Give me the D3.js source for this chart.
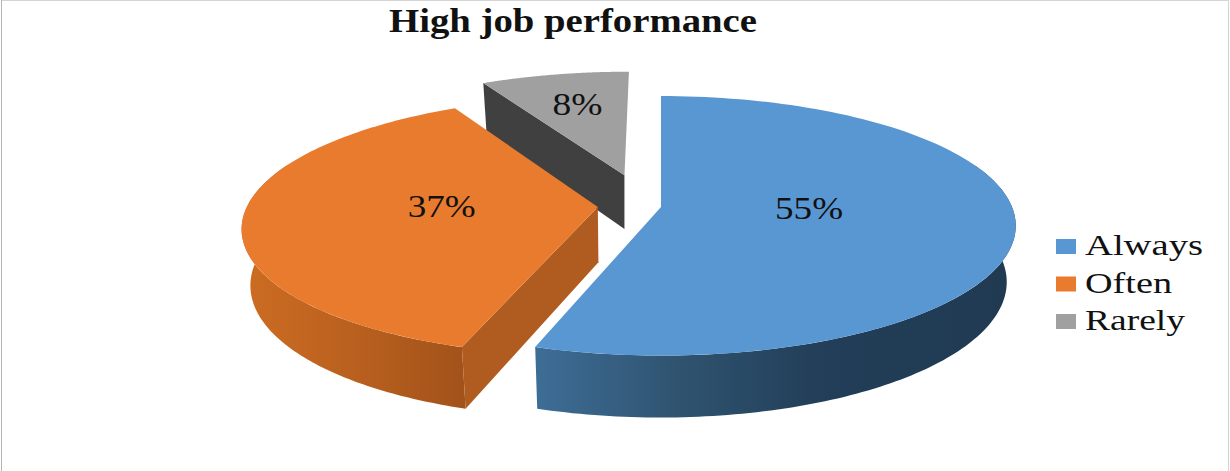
<!DOCTYPE html>
<html>
<head>
<meta charset="utf-8">
<script src="https://d3js.org/d3.v7.min.js"></script>
<style>
  html, body { margin: 0; padding: 0; background: #fff; }
  svg { display: block; }
  text { font-family: "Liberation Serif", serif; fill: #111; }
</style>
</head>
<body>
<div id="chart"></div>
<script>
// Chart data
const categories = ["Always", "Often", "Rarely"];
const shares = [55, 37, 8];
const sliceLabels = ["55%", "37%", "8%"];
const chartTitle = "High job performance";

// Colours
const topColors = ["#5997d3", "#e97b2e", "#a0a0a0"];

const width = 1230, height = 471;

const svg = d3.select("#chart").append("svg")
    .attr("width", width)
    .attr("height", height);

// Frame of the picture
const frame = svg.append("g").attr("fill", "none");
frame.append("path").attr("d", `M1.5,${height} V0.5 H${width - 1.5} V${height}`).attr("stroke", "#d4d4d4");
frame.append("path").attr("d", `M1.5,0 V${height}`).attr("stroke", "#b4b4b4");

// Perspective of the disc: the pie plane (u, v) is projected on the screen
const cx = 661, cy = 207, radiusX = 351, radiusY = 127, tilt = 0.145;
// How far each slice is pulled out of the pie, in plane units
const explode = [[0, 0], [-0.18, 0], [-0.108, -0.26]];
// Lower face is the top face moved down and a little towards the middle
const depthX = 624, depthScaleX = 0.977, depthScaleY = 1.045, depthShift = 46;

function project(r, angle, shift) {
  const u = r * Math.sin(angle) + shift[0];
  const v = -r * Math.cos(angle) + shift[1];
  const w = 1 - tilt * v;
  return [cx + radiusX * u / w, cy + radiusY * v / w];
}

function lower(p) {
  return [depthX + (p[0] - depthX) * depthScaleX, p[1] * depthScaleY + depthShift];
}

const pie = d3.pie().sort(null)(shares);
const line = d3.line();

function rim(from, to, shift) {
  const n = 120;
  return d3.range(n + 1).map(i => project(1, from + (to - from) * i / n, shift));
}

// Side gradients
const defs = svg.append("defs");
function sideGradient(id, x1, x2, stops) {
  const g = defs.append("linearGradient")
      .attr("id", id)
      .attr("gradientUnits", "userSpaceOnUse")
      .attr("x1", x1).attr("y1", 0)
      .attr("x2", x2).attr("y2", 0);
  stops.forEach(s => g.append("stop").attr("offset", s[0]).attr("stop-color", s[1]));
}
sideGradient("side-always", 540, 1010, [[0, "#3d6c95"], [0.3, "#2f536f"], [0.6, "#223e58"], [1, "#203a52"]]);
sideGradient("side-often", 245, 466, [[0, "#cc6c22"], [0.5, "#b9601f"], [1, "#a2521a"]]);

// Only the part of the outer wall that faces the camera gets drawn
const toRad = Math.PI / 180;
const wall = [
  d => [70 * toRad, d.endAngle],
  d => [d.startAngle, 290 * toRad],
  null
];
const sideFills = ["url(#side-always)", "url(#side-often)", null];
const cutFills = [null, "#b05c20", "#404040"];

// Back slices first so the near ones sit on top
[2, 1, 0].forEach(i => {
  const d = pie[i], shift = explode[i];
  const g = svg.append("g");
  const apex = project(0, 0, shift);

  if (wall[i]) {
    const [from, to] = wall[i](d);
    const edge = rim(from, to, shift);
    g.append("path")
        .attr("d", line(edge.concat(edge.map(lower).reverse())) + "Z")
        .attr("fill", sideFills[i]);
  }

  // The radial cut on the start side faces the camera for these slices
  if (cutFills[i]) {
    const outer = project(1, d.startAngle, shift);
    g.append("path")
        .attr("d", line([apex, outer, lower(outer), lower(apex)]) + "Z")
        .attr("fill", cutFills[i]);
  }

  g.append("path")
      .attr("d", line([apex].concat(rim(d.startAngle, d.endAngle, shift))) + "Z")
      .attr("fill", topColors[i]);
});

// Data labels, placed from the middle of each slice
const labelRadius = 0.44;
const labelNudge = [[-6, 3], [-1, 5], [-14, -13]];
pie.forEach((d, i) => {
  const p = project(labelRadius, (d.startAngle + d.endAngle) / 2, explode[i]);
  svg.append("text")
      .attr("x", p[0] + labelNudge[i][0])
      .attr("y", p[1] + labelNudge[i][1])
      .attr("text-anchor", "middle")
      .attr("textLength", i === 2 ? 50 : 68)
      .attr("lengthAdjust", "spacingAndGlyphs")
      .style("font-size", "32px")
      .text(sliceLabels[i]);
});

// Title
svg.append("text")
    .attr("x", 573)
    .attr("y", 32)
    .attr("text-anchor", "middle")
    .attr("textLength", 368)
    .attr("lengthAdjust", "spacingAndGlyphs")
    .style("font-size", "33px")
    .style("font-weight", "bold")
    .text(chartTitle);

// Legend
const legendWidths = [118, 87, 100];
const legend = svg.append("g")
  .selectAll("g")
  .data(categories)
  .enter().append("g")
    .attr("transform", (d, i) => `translate(1056, ${239 + i * 37.5})`);

legend.append("rect")
    .attr("width", 20)
    .attr("height", 15)
    .attr("fill", (d, i) => topColors[i]);

legend.append("text")
    .attr("x", 29)
    .attr("y", 16)
    .attr("textLength", (d, i) => legendWidths[i])
    .attr("lengthAdjust", "spacingAndGlyphs")
    .style("font-size", "29px")
    .text(d => d);
</script>
</body>
</html>
